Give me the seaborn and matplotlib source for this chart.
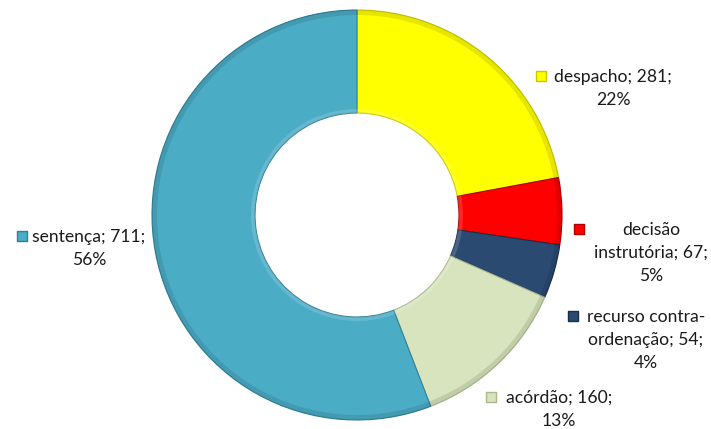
import matplotlib
matplotlib.use("Agg")
import matplotlib.pyplot as plt
from matplotlib.patches import Wedge
import seaborn as sns

# Decision types and their counts
categories = ["despacho", "decisão\ninstrutória", "recurso contra-\nordenação", "acórdão", "sentença"]
values = [281, 67, 54, 160, 711]
colors = ["#FFFF00", "#FF0000", "#2B4A72", "#D7E4BD", "#4BACC6"]
edge_colors = ["#C8C800", "#B00000", "#1A2E4A", "#A9B98C", "#2F8199"]

# Label layout: (block centre x, first line y) in pixel units, marker x
label_pos = [(613, 77, 541), (651, 230, 579), (646, 317, 573), (559, 398, 491), (89, 237, 22)]
line_step = 23

sns.set_theme(style="white")
plt.rcParams["font.family"] = ["Lato", "DejaVu Sans"]

W, H = 711, 429
fig = plt.figure(figsize=(W / 100, H / 100), dpi=100)
ax = fig.add_axes([0, 0, 1, 1])

cx, cy = 357, H - 215
r_out, ring = 205, 103
total = sum(values)

wedges, _ = ax.pie(values, colors=sns.color_palette(colors), startangle=90, counterclock=False,
                   radius=r_out, center=(cx, cy),
                   wedgeprops=dict(width=ring, linewidth=0.8))
for w, ec in zip(wedges, edge_colors):
    w.set_edgecolor(ec)
    # subtle bevel: darker outer rim, lighter inner rim
    ax.add_patch(Wedge((cx, cy), r_out, w.theta1, w.theta2, width=5,
                       facecolor="black", alpha=0.10, lw=0))
    ax.add_patch(Wedge((cx, cy), r_out - ring + 4, w.theta1, w.theta2, width=4,
                       facecolor="white", alpha=0.15, lw=0))

for cat, v, col, ec, (tx, ty, mx) in zip(categories, values, colors, edge_colors, label_pos):
    pct = round(100 * v / total)
    lines = f"{cat}; {v};\n{pct}%".split("\n")
    for i, line in enumerate(lines):
        ax.text(tx, H - ty - i * line_step, line, ha="center", va="center",
                fontsize=12.6, color="#1A1A1A")
    ax.scatter([mx], [H - ty + 1], marker="s", s=50, color=col, edgecolors=ec,
               linewidths=1.0, zorder=5)

ax.set_xlim(0, W)
ax.set_ylim(0, H)
ax.set_aspect("equal")
ax.axis("off")
fig.savefig("out.png", dpi=100)
